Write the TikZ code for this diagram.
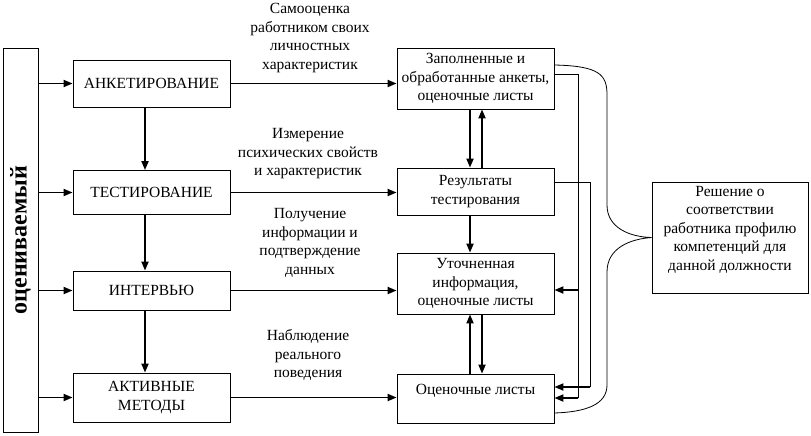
\documentclass[tikz,border=0pt]{standalone}
\usepackage{fontspec}
\setmainfont{Liberation Serif}
\usepackage{tikz}
\usetikzlibrary{arrows.meta,positioning,calc}
\tikzset{
  box/.style={rectangle,draw=black,line width=0.8pt,align=center,
              minimum width=157pt,inner sep=2pt,font=\fontsize{15.5}{18.5}\selectfont},
  side/.style={rectangle,draw=black,line width=0.8pt,minimum width=35pt,minimum height=384pt},
  lbl/.style={align=center,font=\fontsize{15.5}{18.5}\selectfont},
  arr/.style={-{Triangle[length=9pt,width=7pt]},line width=1.8pt},
  wire/.style={line width=0.8pt},
}

\begin{document}
\begin{tikzpicture}[x=1pt,y=-1pt]
  \useasboundingbox (0,0) rectangle (811,436);
  % --- левая колонка ---
  \node[side] (ocen) at (20.5,240) {};
  \node[rotate=90,font=\fontsize{24}{24}\selectfont\bfseries] (ocentxt) at (ocen.center) {оцениваемый};
  % --- методы ---
  \node[box,minimum height=47pt] (ank)  at (151.5,83.5)  {АНКЕТИРОВАНИЕ};
  \node[box,minimum height=44pt] (test) at (151.5,192.5) {ТЕСТИРОВАНИЕ};
  \node[box,minimum height=39pt] (intv) at (151.5,290.5) {ИНТЕРВЬЮ};
  \node[box,minimum height=49pt] (akt)  at (151.5,397.5) {АКТИВНЫЕ\\МЕТОДЫ};
  % --- результаты ---
  \node[box,minimum height=61pt] (res1) at (475.5,78.5)  {Заполненные и\\обработанные анкеты,\\оценочные листы};
  \node[box,minimum height=47pt] (res2) at (475.5,191.5) {Результаты\\тестирования};
  \node[box,minimum height=61pt] (res3) at (475.5,283.5) {Уточненная\\информация,\\оценочные листы};
  \node[box,minimum height=49pt] (res4) at (475.5,398.5) {Оценочные листы\\~};
  \node[box,minimum width=156pt,minimum height=111pt] (dec) at (730,237.5)
    {Решение о\\соответствии\\работника профилю\\компетенций для\\данной должности\\~};
  % --- подписи ---
  \node[lbl] (l1) at (310,38)  {Самооценка\\работником своих\\личностных\\характеристик};
  \node[lbl] (l2) at (308,154) {Измерение\\психических свойств\\и характеристик};
  \node[lbl] (l3) at (310,243) {Получение\\информации и\\подтверждение\\данных};
  \node[lbl] (l4) at (308,355) {Наблюдение\\реального\\поведения};
  % --- шины справа ---
  \coordinate (busA) at (578,0);
  \coordinate (busB) at (590,0);
  % --- стрелки ---
  \draw[arr] (ocen.east |- ank)  -- (ank);
  \draw[arr] (ocen.east |- test) -- (test);
  \draw[arr] (ocen.east |- intv) -- (intv);
  \draw[arr] (ocen.east |- akt)  -- (akt);
  \draw[arr] ([xshift=-6.5pt]ank.south)  -- ([xshift=-6.5pt]test.north);
  \draw[arr] ([xshift=-6.5pt]test.south) -- ([xshift=-6.5pt]intv.north);
  \draw[arr] ([xshift=-6.5pt]intv.south) -- ([xshift=-6.5pt]akt.north);
  \draw[arr] (ank.east)  -- (res1.west |- ank);
  \draw[arr] (test.east) -- (res2.west |- test);
  \draw[arr] (intv.east) -- (res3.west |- intv);
  \draw[arr] (akt.east)  -- (res4.west |- akt);
  \draw[arr] ([xshift=-5.5pt]res1.south) -- ([xshift=-5.5pt]res2.north);
  \draw[arr] ([xshift=6.5pt]res2.north)  -- ([xshift=6.5pt]res1.south);
  \draw[arr] ([xshift=-5.5pt]res2.south) -- ([xshift=-5.5pt]res3.north);
  \draw[arr] ([xshift=-5.5pt]res4.north) -- ([xshift=-5.5pt]res3.south);
  \draw[arr] ([xshift=6.5pt]res3.south)  -- ([xshift=6.5pt]res4.north);
  \draw[wire] (res1.east |- 0,74) -- (busA |- 0,74) -- (busA |- 0,398);
  \draw[arr] (busA |- 0,290) -- (res3.east |- 0,290);
  \draw[arr] (busA |- 0,398) -- (res4.east |- 0,398);
  \draw[wire] (res2.east |- 0,182) -- (busB |- 0,182) -- (busB |- 0,387);
  \draw[arr] (busB |- 0,387) -- (res4.east |- 0,387);
  % --- фигурная скобка к решению ---
  \draw[wire] (res1.east |- 0,65) .. controls (600,66) and (607,75) .. (607,95)
    -- (607,205) .. controls (607,228) and (630,237) .. (dec.west)
    .. controls (630,239) and (607,248) .. (607,272)
    -- (607,385) .. controls (607,405) and (585,412) .. (res4.east |- 0,413);
\end{tikzpicture}
\end{document}
